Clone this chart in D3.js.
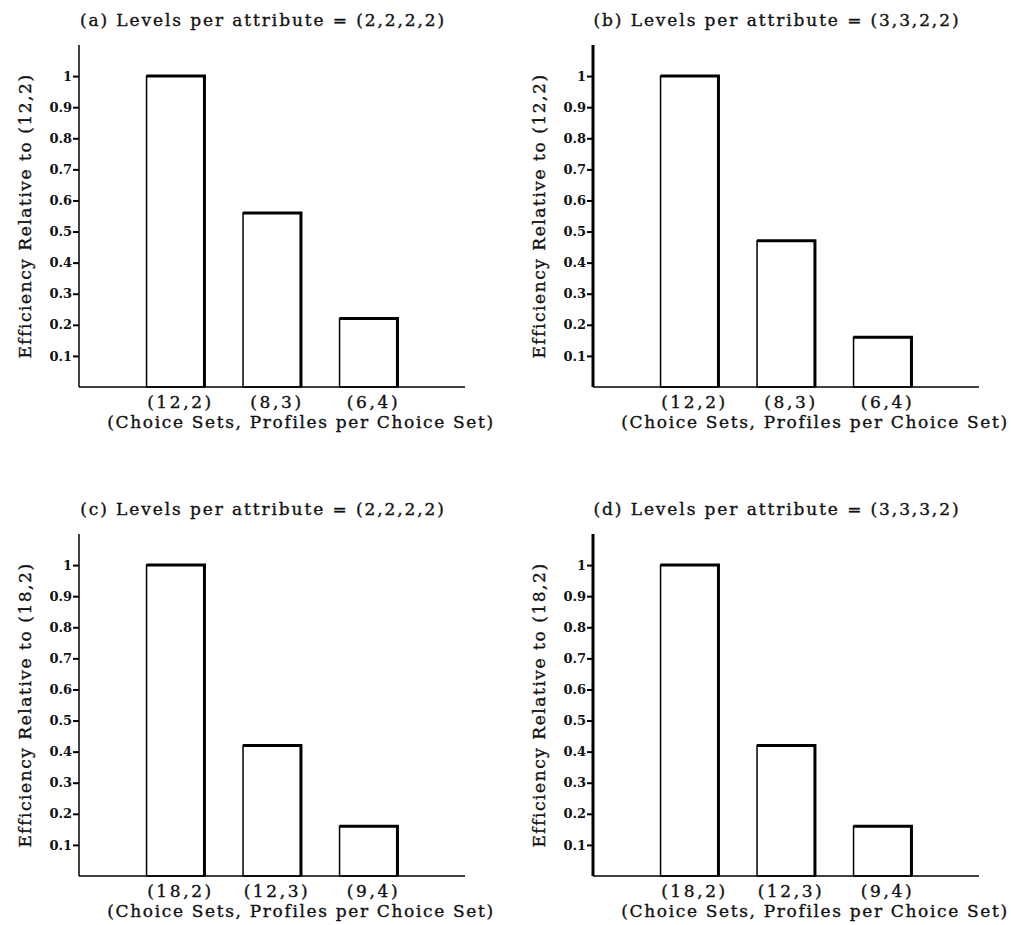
<!DOCTYPE html>
<html>
<head>
<meta charset="utf-8">
<script src="https://cdn.jsdelivr.net/npm/d3@7"></script>
<style>
  body { margin: 0; background: #fff; }
  text { font-family: "DejaVu Serif", serif; fill: #111; }
  .big { stroke: #111; stroke-width: 0.35px; }
</style>
</head>
<body>
<svg id="chart" width="1011" height="925"></svg>
<script>
// panel data
const panelTitles = [
  '(a) Levels per attribute = (2,2,2,2)',
  '(b) Levels per attribute = (3,3,2,2)',
  '(c) Levels per attribute = (2,2,2,2)',
  '(d) Levels per attribute = (3,3,3,2)'
];
const yLabels = [
  'Efficiency Relative to (12,2)',
  'Efficiency Relative to (12,2)',
  'Efficiency Relative to (18,2)',
  'Efficiency Relative to (18,2)'
];
const categoriesA = ['(12,2)', '(8,3)', '(6,4)'];
const categoriesB = ['(12,2)', '(8,3)', '(6,4)'];
const categoriesC = ['(18,2)', '(12,3)', '(9,4)'];
const categoriesD = ['(18,2)', '(12,3)', '(9,4)'];
const valuesA = [1, 0.56, 0.22];
const valuesB = [1, 0.47, 0.16];
const valuesC = [1, 0.42, 0.16];
const valuesD = [1, 0.42, 0.16];
const yTicks = [0.1, 0.2, 0.3, 0.4, 0.5, 0.6, 0.7, 0.8, 0.9, 1];
const yTickLabels = ['0.1', '0.2', '0.3', '0.4', '0.5', '0.6', '0.7', '0.8', '0.9', '1'];
const xTitle = '(Choice Sets, Profiles per Choice Set)';

const panels = [
  { title: panelTitles[0], ylab: yLabels[0], cats: categoriesA, vals: valuesA, ox: 0, oy: 0, thickAxis: false },
  { title: panelTitles[1], ylab: yLabels[1], cats: categoriesB, vals: valuesB, ox: 514, oy: 0, thickAxis: true },
  { title: panelTitles[2], ylab: yLabels[2], cats: categoriesC, vals: valuesC, ox: 0, oy: 489, thickAxis: false },
  { title: panelTitles[3], ylab: yLabels[3], cats: categoriesD, vals: valuesD, ox: 514, oy: 489, thickAxis: true }
];

const svg = d3.select('#chart');
const mLeft = 79, mRight = 465, mTop = 45, mBottom = 387;

const x = d3.scaleLinear().domain([0, 4]).range([mLeft, mRight]);
const y = d3.scaleLinear().domain([0, 1.1]).range([mBottom, mTop]);
const barW = 0.6;

panels.forEach(p => {
  const g = svg.append('g').attr('transform', `translate(${p.ox},${p.oy})`);

  g.append('text')
    .attr('class', 'big')
    .attr('x', mLeft + 184).attr('y', 26)
    .attr('text-anchor', 'middle')
    .attr('font-size', '17px')
    .attr('letter-spacing', '1.9px')
    .text(p.title);

  const data = p.vals.map((v, i) => ({ cat: p.cats[i], value: v, pos: i + 1 }));

  // bars
  const bars = g.selectAll('.bar').data(data).enter().append('g');
  bars.append('rect')
    .attr('x', d => x(d.pos - barW / 2))
    .attr('y', d => y(d.value))
    .attr('width', d => x(d.pos + barW / 2) - x(d.pos - barW / 2))
    .attr('height', d => y(0) - y(d.value))
    .attr('fill', '#fff')
    .attr('stroke', '#000')
    .attr('stroke-width', 1.5);
  bars.append('path')
    .attr('d', d => `M${x(d.pos - barW / 2)},${y(d.value)}H${x(d.pos + barW / 2)}V${y(0)}`)
    .attr('fill', 'none')
    .attr('stroke', '#000')
    .attr('stroke-width', 3);

  // y axis
  const yAxis = g.append('g')
    .attr('transform', `translate(${mLeft},0)`)
    .call(d3.axisLeft(y).tickValues(yTicks).tickSize(6).tickPadding(1)
      .tickFormat((d, i) => yTickLabels[i]));
  yAxis.select('.domain').remove();
  yAxis.selectAll('.tick line').attr('stroke', '#000').attr('stroke-width', 2);
  yAxis.selectAll('.tick text')
    .attr('font-family', '"DejaVu Serif", serif')
    .attr('font-size', '13px')
    .attr('font-weight', 'bold')
    .attr('fill', '#222');
  g.append('line')
    .attr('x1', mLeft).attr('x2', mLeft)
    .attr('y1', y(1.1)).attr('y2', y(0))
    .attr('stroke', '#000')
    .attr('stroke-width', p.thickAxis ? 3 : 1.5);

  // x axis
  g.append('line')
    .attr('x1', mLeft).attr('x2', mRight)
    .attr('y1', y(0)).attr('y2', y(0))
    .attr('stroke', '#000').attr('stroke-width', 1.5);
  g.selectAll('.xlab').data(data).enter().append('text')
    .attr('class', 'big')
    .attr('x', d => x(d.pos) + 5)
    .attr('y', y(0) + 21)
    .attr('text-anchor', 'middle')
    .attr('font-size', '17px')
    .attr('letter-spacing', '2.6px')
    .text(d => d.cat);

  g.append('text')
    .attr('class', 'big')
    .attr('x', mLeft + 222).attr('y', y(0) + 41)
    .attr('text-anchor', 'middle')
    .attr('font-size', '17px')
    .attr('letter-spacing', '1.65px')
    .text(xTitle);

  g.append('text')
    .attr('class', 'big')
    .attr('transform', `translate(31,${(y(0) + y(1.1)) / 2}) rotate(-90)`)
    .attr('text-anchor', 'middle')
    .attr('font-size', '17px')
    .attr('letter-spacing', '1.55px')
    .text(p.ylab);
});
</script>
</body>
</html>
